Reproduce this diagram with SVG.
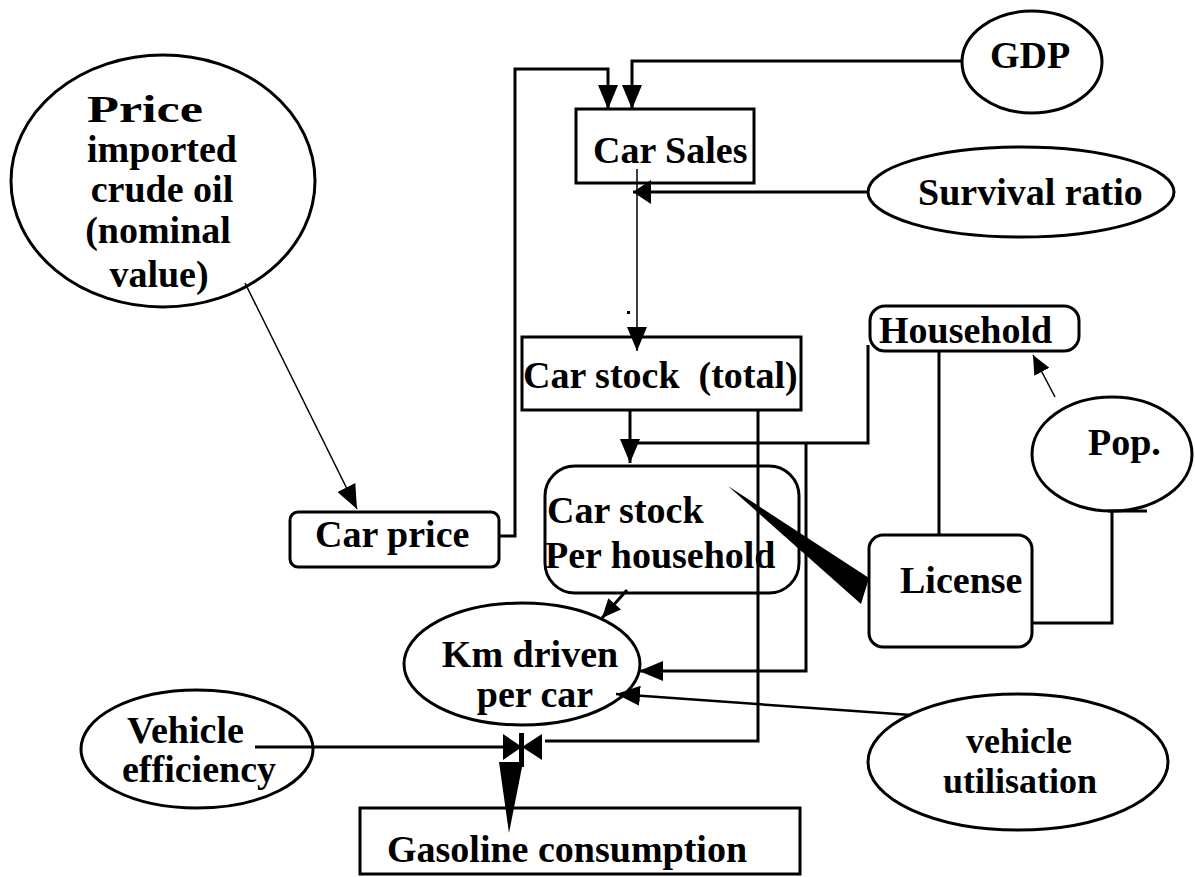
<svg xmlns="http://www.w3.org/2000/svg" width="1195" height="877" viewBox="0 0 1195 877">
<style>
.n{fill:#fff;stroke:#000;stroke-width:3}
.t{font-family:"Liberation Serif","Times New Roman",serif;font-weight:bold;font-size:38px;fill:#000}
.c{fill:none;stroke:#000;stroke-width:3}
.thin{fill:none;stroke:#000;stroke-width:1.5}
.f{fill:#000;stroke:none}
</style>
<defs>
<marker id="ah" markerUnits="userSpaceOnUse" markerWidth="24" markerHeight="20" refX="24" refY="10" orient="auto" viewBox="0 0 24 20"><path d="M0,0 L24,10 L0,20 z" fill="#000"/></marker>
<marker id="ahs" markerUnits="userSpaceOnUse" markerWidth="19" markerHeight="17" refX="19" refY="8.5" orient="auto" viewBox="0 0 19 17"><path d="M0,0 L19,8.5 L0,17 z" fill="#000"/></marker>
<marker id="ahw" markerUnits="userSpaceOnUse" markerWidth="18" markerHeight="24" refX="18" refY="12" orient="auto" viewBox="0 0 18 24"><path d="M0,0 L18,12 L0,24 z" fill="#000"/></marker>
</defs>
<rect width="1195" height="877" fill="#fff"/>
<g id="price-oil">
<ellipse class="n" cx="163" cy="181" rx="152" ry="126"/>
<text class="t" text-anchor="middle"><tspan x="145" y="122" textLength="116" lengthAdjust="spacingAndGlyphs">Price</tspan><tspan x="162" y="162">imported</tspan><tspan x="162" y="202">crude oil</tspan><tspan x="158" y="243">(nominal</tspan><tspan x="159" y="287">value)</tspan></text>
</g>
<g id="gdp">
<ellipse class="n" cx="1032" cy="62" rx="70" ry="51"/>
<text class="t" x="1030" y="68" text-anchor="middle">GDP</text>
</g>
<g id="car-sales">
<rect class="n" x="576" y="109" width="178" height="74"/>
<text class="t" x="593" y="163">Car Sales</text>
</g>
<g id="survival-ratio">
<ellipse class="n" cx="1021" cy="192" rx="153" ry="45"/>
<text class="t" x="918" y="205">Survival ratio</text>
</g>
<g id="car-stock-total">
<rect class="n" x="522" y="337" width="279" height="73"/>
<text class="t" x="523" y="388" xml:space="preserve">Car stock  (total)</text>
</g>
<g id="household">
<rect class="n" x="870" y="306" width="209" height="45" rx="15"/>
<text class="t" x="879" y="343">Household</text>
</g>
<g id="pop">
<ellipse class="n" cx="1112" cy="454" rx="80" ry="57"/>
<text class="t" x="1088" y="455">Pop.</text>
</g>
<g id="car-price">
<rect class="n" x="290" y="512" width="209" height="55" rx="8"/>
<text class="t" x="315" y="547">Car price</text>
</g>
<g id="car-stock-per-household">
<rect class="n" x="545" y="466" width="254" height="127" rx="30"/>
<text class="t"><tspan x="547" y="523">Car stock</tspan><tspan x="545" y="568">Per household</tspan></text>
</g>
<g id="license">
<rect class="n" x="869" y="535" width="163" height="112" rx="14"/>
<text class="t" x="900" y="593">License</text>
</g>
<g id="km-driven">
<ellipse class="n" cx="522" cy="664" rx="118" ry="61"/>
<text class="t" text-anchor="middle"><tspan x="530" y="667">Km driven</tspan><tspan x="535" y="707">per car</tspan></text>
</g>
<g id="vehicle-utilisation">
<ellipse class="n" cx="1018" cy="762" rx="150" ry="68"/>
<text class="t" style="font-size:36px" text-anchor="middle"><tspan x="1019" y="753">vehicle</tspan><tspan x="1020" y="793">utilisation</tspan></text>
</g>
<g id="vehicle-efficiency">
<ellipse class="n" cx="197" cy="749" rx="116" ry="59"/>
<text class="t"><tspan x="127" y="743">Vehicle</tspan><tspan x="122" y="782">efficiency</tspan></text>
</g>
<g id="gasoline-consumption">
<rect class="n" x="360" y="808" width="440" height="66"/>
<text class="t" x="387" y="862">Gasoline consumption</text>
</g>
<g id="connectors">
<path class="c" d="M499,536 H515 V69 H608 V109" marker-end="url(#ah)"/>
<path class="c" d="M962,61 H632 V109" marker-end="url(#ah)"/>
<path class="c" d="M868,192 H633" marker-end="url(#ahw)"/>
<path class="thin" d="M637,169 V351" marker-end="url(#ah)"/>
<rect class="f" x="627" y="311" width="3" height="3"/>
<path class="c" d="M630,410 V463" marker-end="url(#ah)"/>
<path class="c" d="M637,443 H868 V345"/>
<path class="c" d="M806,443 V671 H639" marker-end="url(#ah)"/>
<path class="c" d="M758,410 V741 H545"/>
<path class="c" d="M627,590 L602,618" marker-end="url(#ahs)"/>
<path class="c" style="stroke-width:2.5" d="M911,715 L616,694" marker-end="url(#ah)"/>
<path class="thin" d="M245,283 L357,509" marker-end="url(#ah)"/>
<path class="thin" d="M1055,397 L1033,355" marker-end="url(#ahs)"/>
<path class="c" d="M939,351 V535"/>
<path class="c" d="M1032,623 H1112 V511"/>
<path class="c" d="M1108,511 H1147"/>
<path class="c" d="M255,747 H503"/>
<polygon class="f" points="728,486 869,578 861,604"/>
<polygon class="f" points="503,734 522,747 503,760"/>
<polygon class="f" points="542,734 522,747 542,760"/>
<rect class="f" x="519" y="733" width="5" height="34"/>
<polygon class="f" points="499,762 523,762 509,833"/>
</g>
</svg>
